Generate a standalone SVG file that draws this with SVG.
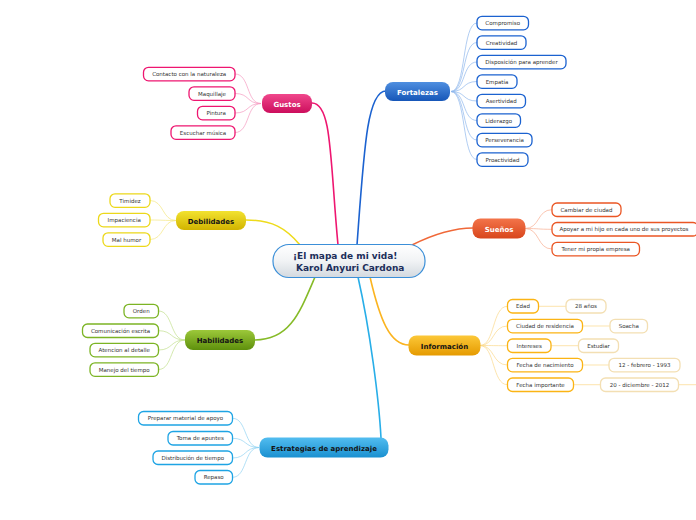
<svg xmlns="http://www.w3.org/2000/svg" width="696" height="520" viewBox="0 0 696 520">
<defs>
<linearGradient id="gC" x1="0" y1="0" x2="0" y2="1"><stop offset="0" stop-color="#ffffff"/><stop offset="0.5" stop-color="#f1f3f5"/><stop offset="1" stop-color="#d3d9df"/></linearGradient>
<linearGradient id="gBlue" x1="0" y1="0" x2="0" y2="1"><stop offset="0" stop-color="#4f8fe0"/><stop offset="1" stop-color="#1656b8"/></linearGradient>
<linearGradient id="gPink" x1="0" y1="0" x2="0" y2="1"><stop offset="0" stop-color="#f0478c"/><stop offset="1" stop-color="#cc0e5c"/></linearGradient>
<linearGradient id="gYel" x1="0" y1="0" x2="0" y2="1"><stop offset="0" stop-color="#f2e230"/><stop offset="1" stop-color="#d2b400"/></linearGradient>
<linearGradient id="gRed" x1="0" y1="0" x2="0" y2="1"><stop offset="0" stop-color="#f3744a"/><stop offset="1" stop-color="#d8461c"/></linearGradient>
<linearGradient id="gGrn" x1="0" y1="0" x2="0" y2="1"><stop offset="0" stop-color="#9cc83a"/><stop offset="1" stop-color="#5e900c"/></linearGradient>
<linearGradient id="gGold" x1="0" y1="0" x2="0" y2="1"><stop offset="0" stop-color="#fcc838"/><stop offset="1" stop-color="#e59a00"/></linearGradient>
<linearGradient id="gSky" x1="0" y1="0" x2="0" y2="1"><stop offset="0" stop-color="#52bdf0"/><stop offset="1" stop-color="#1a90d0"/></linearGradient>
</defs>
<style>
text{font-family:"DejaVu Sans",Verdana,sans-serif}
.main{font-size:7px;font-weight:bold;text-anchor:middle}
.w{fill:#ffffff}
.d{fill:#141414}
.ch{font-size:5.5px;fill:#333333;text-anchor:middle}
.box{fill:#ffffff;stroke-width:1.3}
.br{fill:none;stroke-width:1.6}
.fan{fill:none;stroke-width:0.7}
</style>
<rect width="696" height="520" fill="#ffffff"/>
<g id="connectors">
<path class="br" stroke="#1b62d0" d="M357,245 C364,150 367,91 386,91"/>
<path class="br" stroke="#ee1670" d="M338,245 C330,160 332,103 312,103"/>
<path class="br" stroke="#eedb1c" d="M300,245 C286,228 272,220 246,220"/>
<path class="br" stroke="#f06838" d="M412,245 C430,236 450,228 473,228"/>
<path class="br" stroke="#86bb28" d="M315,277 C300,312 290,340 255,340"/>
<path class="br" stroke="#fbb420" d="M370,277 C380,320 390,345 409,345"/>
<path class="br" stroke="#28aee8" d="M358,277 C370,330 379,400 381,438"/>
<g stroke="#8fb8ec" class="fan">
<path d="M451,91.5 C466,91.5 462,23 477,23"/>
<path d="M451,91.5 C466,91.5 462,42.5 477,42.5"/>
<path d="M451,91.5 C466,91.5 462,62 477,62"/>
<path d="M451,91.5 C466,91.5 462,81.5 477,81.5"/>
<path d="M451,91.5 C466,91.5 462,101 477,101"/>
<path d="M451,91.5 C466,91.5 462,120.5 477,120.5"/>
<path d="M451,91.5 C466,91.5 462,140 477,140"/>
<path d="M451,91.5 C466,91.5 462,159.5 477,159.5"/>
</g>
<g stroke="#f59ac0" class="fan">
<path d="M261,103.5 C246,103.5 250,74 235,74"/>
<path d="M261,103.5 C246,103.5 250,93.5 235,93.5"/>
<path d="M261,103.5 C246,103.5 250,113 235,113"/>
<path d="M261,103.5 C246,103.5 250,132.5 235,132.5"/>
</g>
<g stroke="#f3e680" class="fan">
<path d="M176,220.5 C162,220.5 164,200.5 150,200.5"/>
<path d="M176,220.5 C162,220.5 164,220 150,220"/>
<path d="M176,220.5 C162,220.5 164,239.5 150,239.5"/>
</g>
<g stroke="#f8ad90" class="fan">
<path d="M525,228.5 C540,228.5 537,209.7 552,209.7"/>
<path d="M525,228.5 C540,228.5 537,229.3 552,229.3"/>
<path d="M525,228.5 C540,228.5 537,249 552,249"/>
</g>
<g stroke="#c2df8c" class="fan">
<path d="M185,340 C170,340 173,311 158.5,311"/>
<path d="M185,340 C170,340 173,330.7 158.5,330.7"/>
<path d="M185,340 C170,340 173,350 158.5,350"/>
<path d="M185,340 C170,340 173,369.5 158.5,369.5"/>
</g>
<g stroke="#fbd98a" class="fan">
<path d="M480,345.5 C495,345.5 492,306.3 507.5,306.3"/>
<path d="M480,345.5 C495,345.5 492,326 507.5,326"/>
<path d="M480,345.5 C495,345.5 492,345.7 507.5,345.7"/>
<path d="M480,345.5 C495,345.5 492,365 507.5,365"/>
<path d="M480,345.5 C495,345.5 492,384.7 507.5,384.7"/>
<path d="M538.5,306.3 H566"/>
<path d="M582.5,326 H610"/>
<path d="M551,345.7 H578.5"/>
<path d="M582.5,365 H609"/>
<path d="M573.5,384.7 H600.5"/>
<path d="M678.5,384.7 H696"/>
</g>
<g stroke="#90d2f2" class="fan">
<path d="M259,447.5 C244,447.5 247,418.3 232.5,418.3"/>
<path d="M259,447.5 C244,447.5 247,438.3 232.5,438.3"/>
<path d="M259,447.5 C244,447.5 247,458 232.5,458"/>
<path d="M259,447.5 C244,447.5 247,477.3 232.5,477.3"/>
</g>
</g>
<g id="center">
<rect x="273" y="244.5" width="152" height="33" rx="16" fill="url(#gC)" stroke="#3b8fd8" stroke-width="1.2"/>
<text x="293" y="259" font-size="9" font-weight="bold" fill="#1c2e5a">¡El mapa de mi vida!</text>
<text x="296" y="271" font-size="9" font-weight="bold" fill="#1c2e5a">Karol Anyuri Cardona</text>
</g>
<g id="fortalezas">
<rect x="385" y="82" width="65" height="19" rx="8" fill="url(#gBlue)"/>
<text class="main w" x="417.5" y="94.5">Fortalezas</text>
</g>
<g id="fortalezas-children" stroke="#1b62d0">
<g id="compromiso"><rect class="box" x="477" y="16.3" width="51.5" height="13.5" rx="5"/><text class="ch" stroke="none" x="502.7" y="25">Compromiso</text></g>
<g id="creatividad"><rect class="box" x="477" y="35.8" width="49" height="13.5" rx="5"/><text class="ch" stroke="none" x="501.5" y="44.5">Creatividad</text></g>
<g id="disposicion"><rect class="box" x="477" y="55.3" width="89" height="13.5" rx="5"/><text class="ch" stroke="none" x="521.5" y="64">Disposición para aprender</text></g>
<g id="empatia"><rect class="box" x="477" y="74.8" width="40" height="13.5" rx="5"/><text class="ch" stroke="none" x="497" y="83.5">Empatía</text></g>
<g id="asertividad"><rect class="box" x="477" y="94.3" width="48.5" height="13.5" rx="5"/><text class="ch" stroke="none" x="501.2" y="103">Asertividad</text></g>
<g id="liderazgo"><rect class="box" x="477" y="113.8" width="43.5" height="13.5" rx="5"/><text class="ch" stroke="none" x="498.7" y="122.5">Liderazgo</text></g>
<g id="perseverancia"><rect class="box" x="477" y="133.3" width="55" height="13.5" rx="5"/><text class="ch" stroke="none" x="504.5" y="142">Perseverancia</text></g>
<g id="proactividad"><rect class="box" x="477" y="152.8" width="51" height="13.5" rx="5"/><text class="ch" stroke="none" x="502.5" y="161.5">Proactividad</text></g>
</g>
<g id="gustos">
<rect x="262" y="94" width="50" height="19" rx="8" fill="url(#gPink)"/>
<text class="main w" x="287" y="106.5">Gustos</text>
</g>
<g id="gustos-children" stroke="#ee1670">
<g id="contacto"><rect class="box" x="143.5" y="67.3" width="91.5" height="13.5" rx="5"/><text class="ch" stroke="none" x="189.2" y="76">Contacto con la naturaleza</text></g>
<g id="maquillaje"><rect class="box" x="189" y="86.8" width="46" height="13.5" rx="5"/><text class="ch" stroke="none" x="212" y="95.5">Maquillaje</text></g>
<g id="pintura"><rect class="box" x="197.5" y="106.3" width="37.5" height="13.5" rx="5"/><text class="ch" stroke="none" x="216.2" y="115">Pintura</text></g>
<g id="musica"><rect class="box" x="171" y="125.8" width="64" height="13.5" rx="5"/><text class="ch" stroke="none" x="203" y="134.5">Escuchar música</text></g>
</g>
<g id="debilidades">
<rect x="176" y="211" width="70" height="19" rx="8" fill="url(#gYel)"/>
<text class="main d" x="211" y="223.5">Debilidades</text>
</g>
<g id="debilidades-children" stroke="#ecd81a">
<g id="timidez"><rect class="box" x="110" y="193.8" width="40" height="13.5" rx="5"/><text class="ch" stroke="none" x="130" y="202.5">Timidez</text></g>
<g id="impaciencia"><rect class="box" x="98.5" y="213.3" width="51.5" height="13.5" rx="5"/><text class="ch" stroke="none" x="124.2" y="222">Impaciencia</text></g>
<g id="malhumor"><rect class="box" x="103" y="232.8" width="47" height="13.5" rx="5"/><text class="ch" stroke="none" x="126.5" y="241.5">Mal humor</text></g>
</g>
<g id="suenos">
<rect x="472.5" y="218.5" width="53" height="20" rx="8" fill="url(#gRed)"/>
<text class="main w" x="499" y="231.5">Sueños</text>
</g>
<g id="suenos-children" stroke="#ea5624">
<g id="cambiar"><rect class="box" x="552" y="203" width="69" height="13.5" rx="5"/><text class="ch" stroke="none" x="586.5" y="211.7">Cambiar de ciudad</text></g>
<g id="apoyar"><rect class="box" x="552" y="222.5" width="146" height="13.5" rx="5"/><text class="ch" stroke="none" x="624" y="231.3">Apoyar a mi hijo en cada uno de sus proyectos</text></g>
<g id="empresa"><rect class="box" x="552" y="242.3" width="87.5" height="13.5" rx="5"/><text class="ch" stroke="none" x="595.7" y="251">Tener mi propia empresa</text></g>
</g>
<g id="habilidades">
<rect x="185" y="330" width="70" height="20" rx="8" fill="url(#gGrn)"/>
<text class="main d" x="220" y="343">Habilidades</text>
</g>
<g id="habilidades-children" stroke="#7cb424">
<g id="orden"><rect class="box" x="124" y="304.3" width="34.5" height="13.5" rx="5"/><text class="ch" stroke="none" x="141.2" y="313">Orden</text></g>
<g id="comunicacion"><rect class="box" x="82.5" y="324" width="76" height="13.5" rx="5"/><text class="ch" stroke="none" x="120.5" y="332.7">Comunicación escrita</text></g>
<g id="atencion"><rect class="box" x="90" y="343.3" width="68.5" height="13.5" rx="5"/><text class="ch" stroke="none" x="124.2" y="352">Atencion al detalle</text></g>
<g id="manejo"><rect class="box" x="90" y="362.8" width="68.5" height="13.5" rx="5"/><text class="ch" stroke="none" x="124.2" y="371.5">Manejo del tiempo</text></g>
</g>
<g id="informacion">
<rect x="408.5" y="335.5" width="72" height="20" rx="8" fill="url(#gGold)"/>
<text class="main d" x="444.5" y="348.5">Información</text>
</g>
<g id="informacion-children" stroke="#fbb414">
<g id="edad"><rect class="box" x="507.5" y="299.5" width="31" height="13.5" rx="5"/><text class="ch" stroke="none" x="523" y="308.2">Edad</text></g>
<g id="ciudad"><rect class="box" x="507.5" y="319.3" width="75" height="13.5" rx="5"/><text class="ch" stroke="none" x="545" y="328">Ciudad de residencia</text></g>
<g id="intereses"><rect class="box" x="507.5" y="339" width="43.5" height="13.5" rx="5"/><text class="ch" stroke="none" x="529.2" y="347.7">Intereses</text></g>
<g id="nacimiento"><rect class="box" x="507.5" y="358.3" width="75" height="13.5" rx="5"/><text class="ch" stroke="none" x="545" y="367">Fecha de nacimiento</text></g>
<g id="importante"><rect class="box" x="507.5" y="378" width="66" height="13.5" rx="5"/><text class="ch" stroke="none" x="540.5" y="386.7">Fecha importante</text></g>
</g>
<g id="informacion-values" stroke="#f3dfb3">
<g id="v28"><rect class="box" x="566" y="299.5" width="40" height="13.5" rx="5"/><text class="ch" stroke="none" x="586" y="308.2">28 años</text></g>
<g id="vsoacha"><rect class="box" x="610" y="319.3" width="37.5" height="13.5" rx="5"/><text class="ch" stroke="none" x="628.7" y="328">Soacha</text></g>
<g id="vestudiar"><rect class="box" x="578.5" y="339" width="40" height="13.5" rx="5"/><text class="ch" stroke="none" x="598.5" y="347.7">Estudiar</text></g>
<g id="vnac"><rect class="box" x="609" y="358.3" width="71" height="13.5" rx="5"/><text class="ch" stroke="none" x="644.5" y="367">12 - febrero - 1993</text></g>
<g id="vimp"><rect class="box" x="600.5" y="378" width="78" height="13.5" rx="5"/><text class="ch" stroke="none" x="639.5" y="386.7">20 - diciembre - 2012</text></g>
</g>
<g id="estrategias">
<rect x="259.5" y="437.5" width="129" height="20" rx="8" fill="url(#gSky)"/>
<text class="main d" x="324" y="450.5">Estrategias de aprendizaje</text>
</g>
<g id="estrategias-children" stroke="#1ea4e4">
<g id="preparar"><rect class="box" x="138.5" y="411.5" width="94" height="13.5" rx="5"/><text class="ch" stroke="none" x="185.5" y="420.2">Preparar material de apoyo</text></g>
<g id="toma"><rect class="box" x="168" y="431.5" width="64.5" height="13.5" rx="5"/><text class="ch" stroke="none" x="200.2" y="440.2">Toma de apuntes</text></g>
<g id="distribucion"><rect class="box" x="153" y="451" width="79.5" height="13.5" rx="5"/><text class="ch" stroke="none" x="192.7" y="459.7">Distribución de tiempo</text></g>
<g id="repaso"><rect class="box" x="195" y="470.5" width="37.5" height="13.5" rx="5"/><text class="ch" stroke="none" x="213.7" y="479.2">Repaso</text></g>
</g>
</svg>
